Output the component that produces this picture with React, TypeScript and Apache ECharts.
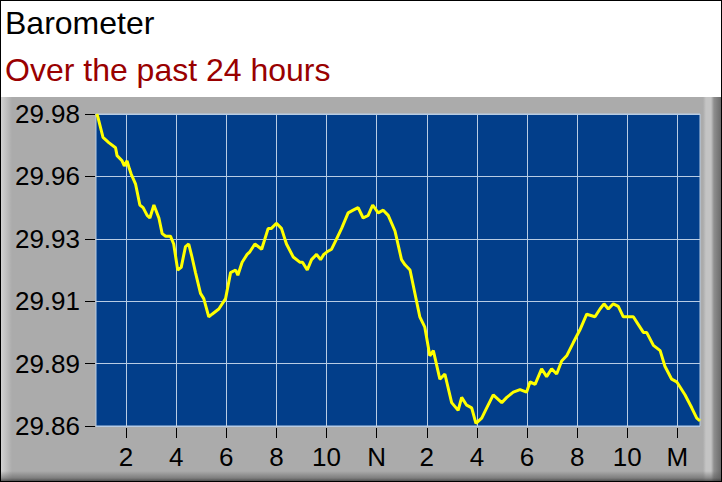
import React, { useEffect, useRef } from "react";
import * as echarts from "echarts";

// hours since midnight (values past 24 belong to the next day)
const hours = [
    0.83, 0.87, 1.08, 1.31, 1.58, 1.64, 1.84, 1.93, 2.04, 2.13, 2.2, 2.38, 2.55, 2.68, 2.84, 2.95,
    3.11, 3.31, 3.44, 3.58, 3.77, 3.9, 4.06, 4.2, 4.37, 4.5, 4.63, 4.77, 4.97, 5.1, 5.3, 5.43,
    5.7, 5.97, 6.17, 6.37, 6.46, 6.63, 6.83, 6.94, 7.14, 7.41, 7.67, 7.8, 8.0, 8.2, 8.4, 8.67,
    8.93, 9.04, 9.23, 9.4, 9.6, 9.76, 9.89, 10.02, 10.2, 10.4, 10.6, 10.86, 11.06, 11.26, 11.46,
    11.66, 11.84, 12.06, 12.26, 12.46, 12.73, 12.99, 13.13, 13.33, 13.59, 13.72, 13.92, 14.12,
    14.26, 14.52, 14.72, 14.99, 15.25, 15.39, 15.59, 15.79, 15.96, 16.19, 16.39, 16.65, 16.99,
    17.19, 17.45, 17.72, 17.98, 18.12, 18.32, 18.58, 18.78, 18.98, 19.18, 19.38, 19.58, 19.84,
    20.11, 20.38, 20.71, 20.91, 21.07, 21.24, 21.44, 21.64, 21.84, 22.24, 22.44, 22.64, 22.77,
    23.04, 23.31, 23.5, 23.77, 23.97, 24.3, 24.57, 24.77, 24.9,
];

// barometer reading, inHg
const pressure = [
    29.982, 29.981, 29.973, 29.971, 29.969, 29.966, 29.964, 29.962, 29.964, 29.961, 29.959, 29.955,
    29.947, 29.946, 29.943, 29.942, 29.947, 29.942, 29.936, 29.935, 29.935, 29.932, 29.922, 29.923,
    29.931, 29.932, 29.927, 29.921, 29.913, 29.911, 29.904, 29.905, 29.907, 29.911, 29.921, 29.922,
    29.92, 29.925, 29.928, 29.929, 29.932, 29.93, 29.938, 29.938, 29.94, 29.938, 29.932, 29.927,
    29.925, 29.925, 29.922, 29.926, 29.928, 29.926, 29.928, 29.929, 29.93, 29.934, 29.938, 29.944,
    29.945, 29.946, 29.942, 29.943, 29.947, 29.944, 29.945, 29.943, 29.937, 29.926, 29.924, 29.922,
    29.91, 29.904, 29.9, 29.889, 29.891, 29.88, 29.882, 29.871, 29.868, 29.873, 29.87, 29.869,
    29.863, 29.865, 29.869, 29.874, 29.871, 29.873, 29.875, 29.876, 29.875, 29.879, 29.878, 29.884,
    29.881, 29.884, 29.882, 29.887, 29.889, 29.894, 29.899, 29.905, 29.904, 29.907, 29.909, 29.907,
    29.909, 29.908, 29.904, 29.904, 29.901, 29.898, 29.898, 29.893, 29.891, 29.885, 29.88, 29.879,
    29.874, 29.869, 29.865, 29.864,
];

const xTickHours = [2, 4, 6, 8, 10, 12, 14, 16, 18, 20, 22, 24];
const xTickLabels = ["2", "4", "6", "8", "10", "N", "2", "4", "6", "8", "10", "M"];

const yMin = 29.862;
const yMax = 29.982;
const yStep = 0.024;

const FONT = "'Liberation Sans', Arial, sans-serif";

const App = () => {
    const chartRef = useRef<HTMLDivElement>(null);

    useEffect(() => {
        if (!chartRef.current) return;
        const chart = echarts.init(chartRef.current, null, { renderer: "svg" });

        const option = {
            animation: false,
            title: [
                {
                    text: "Barometer",
                    left: 0,
                    top: 2,
                    textStyle: { fontFamily: FONT, fontSize: 32, fontWeight: "normal", color: "#000000" },
                },
                {
                    text: "Over the past 24 hours",
                    left: 0,
                    top: 49,
                    textStyle: { fontFamily: FONT, fontSize: 32, fontWeight: "normal", color: "#990000" },
                },
            ],
            grid: {
                left: 96,
                top: 114,
                right: 22,
                bottom: 56,
                show: true,
                backgroundColor: "#023e8a",
                borderColor: "#b8cce4",
                borderWidth: 1,
            },
            xAxis: {
                type: "value",
                min: 0.8,
                max: 24.9,
                offset: 2,
                axisLine: { show: false },
                axisTick: {
                    show: true,
                    length: 10,
                    customValues: xTickHours,
                    lineStyle: { color: "#000000", width: 1 },
                },
                axisLabel: {
                    customValues: xTickHours,
                    margin: 16,
                    fontFamily: FONT,
                    fontSize: 26,
                    color: "#000000",
                    formatter: (v: number) => xTickLabels[xTickHours.indexOf(Math.round(v))] ?? "",
                },
                splitLine: { show: true, lineStyle: { color: "#b8cce4", width: 1 } },
            },
            yAxis: {
                type: "value",
                min: yMin,
                max: yMax,
                interval: yStep,
                offset: 1,
                axisLine: { show: false },
                axisTick: { show: true, length: 10, lineStyle: { color: "#000000", width: 1 } },
                axisLabel: {
                    margin: 15,
                    fontFamily: FONT,
                    fontSize: 26,
                    color: "#000000",
                    formatter: (v: number) => v.toFixed(2),
                },
                splitLine: { show: true, lineStyle: { color: "#b8cce4", width: 1 } },
            },
            series: [
                {
                    name: "Barometer",
                    type: "line",
                    data: hours.map((h, i) => [h, pressure[i]]),
                    showSymbol: false,
                    lineStyle: { color: "#ffff00", width: 3 },
                    itemStyle: { color: "#ffff00" },
                },
            ],
        };

        chart.setOption(option);
        return () => chart.dispose();
    }, []);

    return (
        <div style={{ position: "fixed", left: 0, top: 0, width: 722, height: 482 }}>
            <div
                style={{
                    position: "absolute",
                    left: 0,
                    top: 0,
                    width: 722,
                    height: 482,
                    boxSizing: "border-box",
                    border: "1px solid #000000",
                    background: "#ffffff",
                }}
            />
            {/* grey bevelled panel under the plot */}
            <div
                style={{
                    position: "absolute",
                    left: 1,
                    top: 97,
                    width: 720,
                    height: 384,
                    background:
                        "linear-gradient(to bottom, rgba(0,0,0,0) 0px, rgba(0,0,0,0) 374px, rgba(90,90,90,0.55) 381px, rgba(60,60,60,0.8) 384px), " +
                        "linear-gradient(to right, #d2d2d2 0px, #c4c4c4 4px, #ababab 11px, #ababab 702px, #c4c4c4 705px, #c4c4c4 710px, #8e8e8e 713px, #6c6c6c 720px)",
                }}
            />
            <div ref={chartRef} style={{ position: "absolute", left: 0, top: 0, width: 722, height: 482 }} />
        </div>
    );
};

export default App;
